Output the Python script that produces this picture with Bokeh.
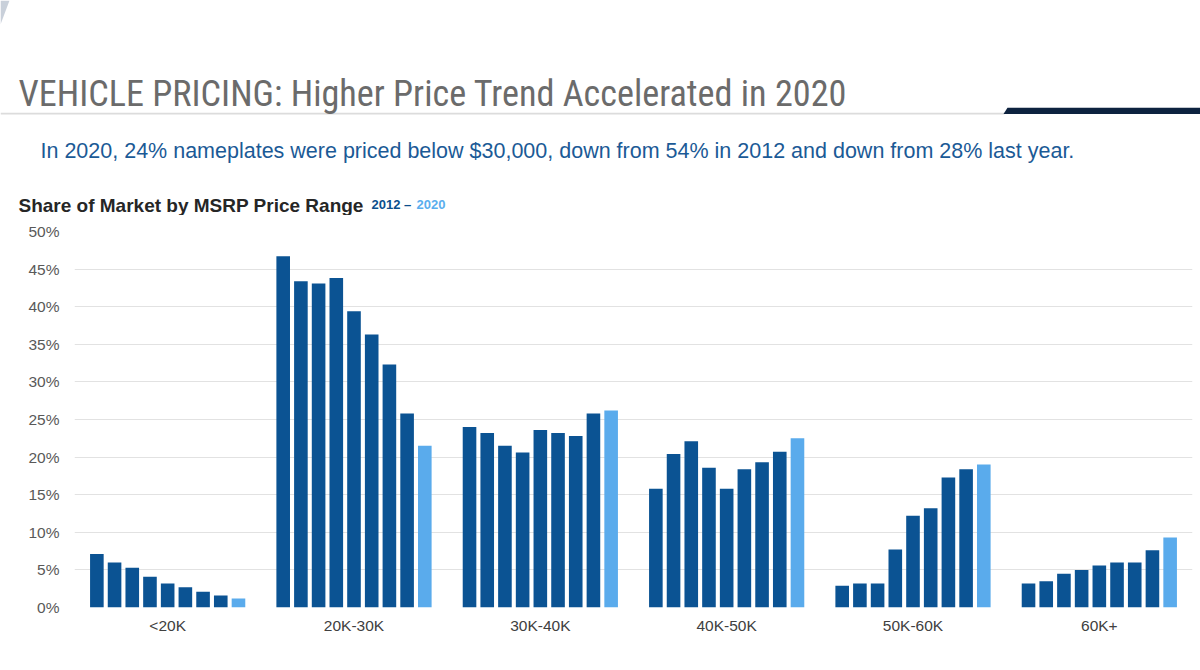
from bokeh.plotting import figure
from bokeh.layouts import column, row
from bokeh.models import (ColumnDataSource, FactorRange, Range1d,
                          FixedTicker, PrintfTickFormatter)
from bokeh.core.properties import value
from bokeh.transform import dodge
from bokeh.embed import file_html
from bokeh.resources import INLINE

# ---------------- data ----------------
categories = ["<20K", "20K-30K", "30K-40K", "40K-50K", "50K-60K", "60K+"]
years = ["2012", "2013", "2014", "2015", "2016", "2017", "2018", "2019", "2020"]

share_lt20k = [7.1, 6.0, 5.3, 4.1, 3.2, 2.7, 2.1, 1.6, 1.2]
share_20_30k = [46.7, 43.4, 43.1, 43.8, 39.4, 36.3, 32.3, 25.8, 21.5]
share_30_40k = [24.0, 23.2, 21.5, 20.6, 23.6, 23.2, 22.8, 25.8, 26.2]
share_40_50k = [15.8, 20.4, 22.1, 18.6, 15.8, 18.4, 19.3, 20.7, 22.5]
share_50_60k = [2.9, 3.2, 3.2, 7.7, 12.2, 13.2, 17.3, 18.4, 19.0]
share_60k_plus = [3.2, 3.5, 4.5, 5.0, 5.6, 6.0, 6.0, 7.6, 9.3]

y_tick_values = [0, 5, 10, 15, 20, 25, 30, 35, 40, 45, 50]

title_text = "VEHICLE PRICING: Higher Price Trend Accelerated in 2020"
subtitle_text = ("In 2020, 24% nameplates were priced below $30,000, down from 54% "
                 "in 2012 and down from 28% last year.")
chart_title_text = "Share of Market by MSRP Price Range"
legend_start = "2012 –"
legend_end = "2020"

# ---------------- styling ----------------
DARK = "#0b5393"
LIGHT = "#5aabec"
FONT = "Liberation Sans"
W = 1200
HEADER_H = 215

# ---------------- header figure (pixel coordinates) ----------------
h = figure(width=W, height=HEADER_H, output_backend="svg", toolbar_location=None,
           x_range=Range1d(0, W), y_range=Range1d(HEADER_H, 0), tools="",
           min_border=0, outline_line_color=None)
h.axis.visible = False
h.grid.visible = False
h.background_fill_color = "white"
h.border_fill_color = "white"

# thin gray rule and navy accent bar
h.patch(x=[0, 1004, 1004, 0], y=[112.3, 112.3, 114, 114],
        fill_color="#dcdcdc", line_color=None)
h.patch(x=[1007, W, W, 1003], y=[107.3, 107.3, 113.5, 113.5],
        fill_color="#0d223f", line_color=None)
# faint corner accent
h.patch(x=[0, 9, 0], y=[0, 0, 24], fill_color="#c9d0da", line_color=None)

h.text(x=[18], y=[92.5], text=[title_text], text_font=value("Roboto Condensed"),
       text_font_size="36.2px", text_color="#6b6b6b", text_baseline="alphabetic")
h.text(x=[40], y=[150.7], text=[subtitle_text], text_font=value(FONT),
       text_font_size="21.5px", text_color="#1b5a96", text_baseline="alphabetic")
h.text(x=[18], y=[205], text=[chart_title_text], text_font=value(FONT),
       text_font_size="19px", text_font_style="bold", text_color="#262626",
       text_baseline="alphabetic")
h.text(x=[371], y=[204], text=[legend_start], text_font=value(FONT),
       text_font_size="13px", text_font_style="bold", text_color="#0b4f8c",
       text_baseline="alphabetic")
h.text(x=[416], y=[204], text=[legend_end], text_font=value(FONT),
       text_font_size="13px", text_font_style="bold", text_color="#5aaeee",
       text_baseline="alphabetic")

# ---------------- chart figure ----------------
series = [share_lt20k, share_20_30k, share_30_40k, share_40_50k, share_50_60k, share_60k_plus]
data = {"cat": categories}
for i, yr in enumerate(years):
    data[yr] = [s[i] for s in series]
source = ColumnDataSource(data)

p = figure(width=W, height=670 - HEADER_H, output_backend="svg", toolbar_location=None,
           x_range=FactorRange(*categories, range_padding=0), y_range=(0, 50),
           min_border_left=74, min_border_right=8, min_border_top=231 - HEADER_H,
           min_border_bottom=63, outline_line_color=None, tools="")
p.background_fill_color = "white"
p.border_fill_color = "white"

step = 0.095
bar_w = 0.073
for i, yr in enumerate(years):
    color = LIGHT if i == len(years) - 1 else DARK
    p.vbar(x=dodge("cat", (i - 4) * step, range=p.x_range), top=yr, width=bar_w,
           source=source, fill_color=color, line_color=None)

p.xaxis.axis_line_color = None
p.xaxis.major_tick_line_color = None
p.xaxis.minor_tick_line_color = None
p.xaxis.major_label_text_font = FONT
p.xaxis.major_label_text_font_size = "15.5px"
p.xaxis.major_label_text_color = "#404040"
p.xaxis.major_label_standoff = 3

p.yaxis.ticker = FixedTicker(ticks=y_tick_values)
p.yaxis.formatter = PrintfTickFormatter(format="%d%%")
p.yaxis.axis_line_color = None
p.yaxis.major_tick_line_color = None
p.yaxis.minor_tick_line_color = None
p.yaxis.major_label_text_font = FONT
p.yaxis.major_label_text_font_size = "15.5px"
p.yaxis.major_label_text_color = "#595959"
p.yaxis.major_label_standoff = 9

p.xgrid.grid_line_color = None
p.ygrid.grid_line_color = "#e2e2e2"
p.ygrid.grid_line_width = 1

layout = column(row(h), p, spacing=0)
open("out.html", "w").write(file_html(layout, INLINE))
